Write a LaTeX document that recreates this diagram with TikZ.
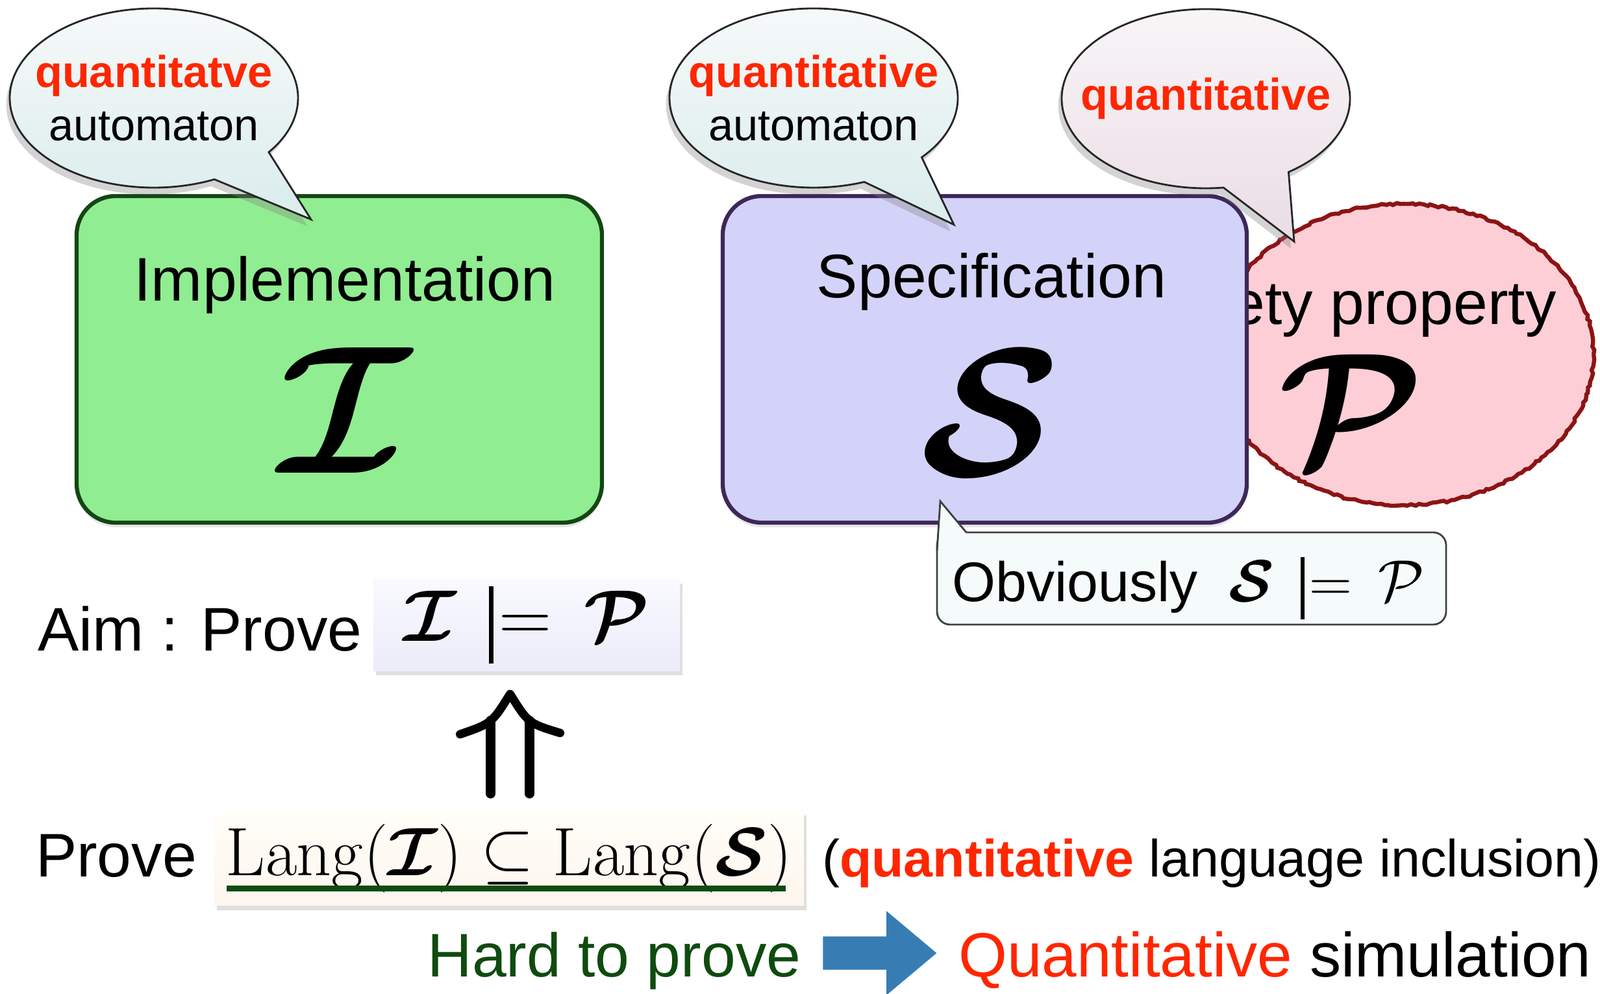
\documentclass[tikz,border=0pt]{standalone}
\usepackage{fix-cm}
\usepackage{amsmath}
\usepackage{graphicx}
\usepackage[no-math]{fontspec}
\setmainfont{Liberation Sans}
\usepackage{tikz}
\usetikzlibrary{shapes}
\usetikzlibrary{shapes.callouts}
\usetikzlibrary{shapes.arrows}
\usetikzlibrary{positioning}
\usetikzlibrary{calc}
\usetikzlibrary{shadows}
\usetikzlibrary{decorations.pathmorphing}

\definecolor{implfill}{RGB}{145,237,145}
\definecolor{impldraw}{RGB}{20,70,20}
\definecolor{specfill}{RGB}{211,211,250}
\definecolor{specdraw}{RGB}{60,40,90}
\definecolor{propfill}{RGB}{253,206,214}
\definecolor{propdraw}{RGB}{140,20,20}
\definecolor{qred}{RGB}{255,38,0}
\definecolor{hardgreen}{RGB}{15,75,15}
\definecolor{goblue}{RGB}{55,125,180}
\definecolor{bluetop}{RGB}{246,249,249}
\definecolor{bluebot}{RGB}{218,236,236}
\definecolor{pinktop}{RGB}{248,245,247}
\definecolor{pinkbot}{RGB}{234,221,229}
\definecolor{aimtop}{RGB}{249,249,255}
\definecolor{aimbot}{RGB}{236,236,250}
\definecolor{langtop}{RGB}{255,254,248}
\definecolor{langbot}{RGB}{253,246,238}
\definecolor{obvfill}{RGB}{245,251,251}

\newcommand{\bigsym}[2]{\fontsize{#2}{#2}\selectfont$\boldsymbol{\mathcal{#1}}$}
\newcommand{\Models}{\mathrel{\rule[-0.3em]{0.06em}{1.05em}\mkern-3.5mu=}}

\begin{document}
\begin{tikzpicture}[
    every node/.style={font=\fontsize{27}{32}\selectfont},
    rough/.style={decorate, decoration={random steps, segment length=1.6pt, amplitude=0.45pt}},
    impl/.style={draw=impldraw, line width=1.8pt, fill=implfill, rounded corners=0.6cm, minimum width=8.09cm, minimum height=5.03cm, drop shadow={shadow xshift=0pt, shadow yshift=-2pt, opacity=0.2}},
    spec/.style={draw=specdraw, line width=1.8pt, fill=specfill, rounded corners=0.6cm, minimum width=8.07cm, minimum height=5.03cm, drop shadow={shadow xshift=0pt, shadow yshift=-2pt, opacity=0.2}},
    prop/.style={rough, ellipse, draw=propdraw, line width=1.8pt, fill=propfill, minimum width=5.84cm, minimum height=4.64cm},
    bigsign/.style={inner sep=0pt},
    balloon/.style={ellipse callout, draw=black!85, line width=0.8pt, top color=bluetop, bottom color=bluebot, minimum width=4.44cm, minimum height=2.76cm, inner xsep=-4mm, inner ysep=0pt, callout pointer arc=28, align=center, font=\fontsize{19.5}{23.4}\selectfont, drop shadow={shadow xshift=-1.5pt, shadow yshift=-3pt, opacity=0.35}},
    pinkballoon/.style={balloon, top color=pinktop, bottom color=pinkbot},
    formula/.style={minimum width=4.72cm, minimum height=1.39cm, top color=aimtop, bottom color=aimbot, drop shadow={shadow xshift=1pt, shadow yshift=-2pt, opacity=0.25}, font=\fontsize{32}{36}\selectfont},
    langbox/.style={minimum width=9.08cm, minimum height=1.46cm, top color=langtop, bottom color=langbot, drop shadow={shadow xshift=1pt, shadow yshift=-2pt, opacity=0.25}, font=\fontsize{30}{35}\selectfont},
    claim/.style={draw=black!75, line width=0.8pt, fill=obvfill, rounded corners=0.2cm, minimum width=7.84cm, minimum height=1.42cm},
    shaft/.style={line width=1.5mm, line cap=round},
    roof/.style={line width=1.3mm, line cap=round, line join=round},
    goto/.style={single arrow, fill=goblue, minimum height=1.75cm, inner sep=2.5mm, single arrow head extend=3.9mm, single arrow tip angle=80}
]
\useasboundingbox (0,0) rectangle (24.64,-15.31);

\node[impl] (implbox) at (5.225,-5.535) {};
\node[anchor=base] (impltxt) at (5.31,-4.64) {Implementation};
\node[bigsign] (implsym) at (5.31,-6.32) {\bigsym{I}{80}};

\node[prop] (propball) at (21.62,-5.46) {};
\node[anchor=base east] (proptxt) at (24.09,-5.00) {Safety property};
\node[bigsign] (propsym) at (20.81,-6.32) {\bigsym{P}{71}};

\node[spec] (specbox) at (15.165,-5.535) {};
\node[anchor=base] (spectxt) at (15.27,-4.59) {Specification};
\node[bigsign] (specsym) at (15.25,-6.36) {\bigsym{S}{80}};

\node[balloon, callout absolute pointer={(4.79,-3.38)}] (implnote) at (2.37,-1.51) {\textcolor{qred}{\textbf{quantitatve}}\\automaton};
\node[balloon, callout absolute pointer={(14.69,-3.46)}] (specnote) at (12.53,-1.51) {\textcolor{qred}{\textbf{quantitative}}\\automaton};
\node[pinkballoon, callout absolute pointer={(19.93,-3.72)}] (propnote) at (18.57,-1.52) {\textcolor{qred}{\textbf{quantitative}}};

\node[claim] (obv) at (18.35,-8.91) {};
\coordinate (obvtip) at (14.48,-7.72);
\fill[obvfill] (14.445,-8.48) -- (obvtip) -- (14.88,-8.215) -- (14.90,-8.48) -- cycle;
\draw[black!75, line width=0.8pt] (14.43,-8.48) -- (obvtip) -- (14.88,-8.20);
\node[anchor=base west, font=\fontsize{24.5}{29}\selectfont] (obvtxt) at (14.54,-9.27) {Obviously~~{\fontsize{26}{31}\selectfont$\boldsymbol{\mathcal{S}} \,\Models\, \mathcal{P}$}};

\node[anchor=base] (aimtxt) at (3.08,-10.03) {Aim : Prove};
\node[formula] (aim) at (8.11,-9.625) {$\boldsymbol{\mathcal{I}} \,\Models\, \boldsymbol{\mathcal{P}}$};

\node[langbox] (lang) at (7.84,-13.22) {$\mathrm{Lang}(\boldsymbol{\mathcal{I}}) \subseteq \mathrm{Lang}(\boldsymbol{\mathcal{S}})$};
\draw[hardgreen, line width=0.9mm] ($(lang.base)+(-4.35,-0.20)$) -- ($(lang.base)+(4.26,-0.20)$);
\node[anchor=base] (provetxt) at (1.79,-13.51) {Prove};
\node[anchor=base, font=\fontsize{23}{28}\selectfont] (incl) at (18.66,-13.51) {(\textcolor{qred}{\textbf{quantitative}} language inclusion)};

\coordinate (upx) at (7.855,0);
\coordinate (apex) at ($(aim.south -| upx)+(0,-0.35)$);
\coordinate (upfoot) at ($(lang.north -| upx)+(0,0.26)$);
\draw[shaft] ($(upfoot)+(-0.30,0)$) -- ($(apex)+(-0.30,-0.41)$);
\draw[shaft] ($(upfoot)+(0.30,0)$) -- ($(apex)+(0.30,-0.41)$);
\draw[roof] ($(apex)+(-0.77,-0.62)$) .. controls ($(apex)+(-0.28,-0.45)$) .. (apex) .. controls ($(apex)+(0.28,-0.45)$) .. ($(apex)+(0.77,-0.60)$);

\node[anchor=base, text=hardgreen] (hard) at (9.46,-15.05) {Hard to prove};
\node[goto] (togo) at (13.395,-14.68) {};
\node[anchor=base west, font=\fontsize{27.4}{32}\selectfont] (qsim) at (14.64,-15.05) {\textcolor{qred}{Quantitative} simulation};
\end{tikzpicture}
\end{document}
